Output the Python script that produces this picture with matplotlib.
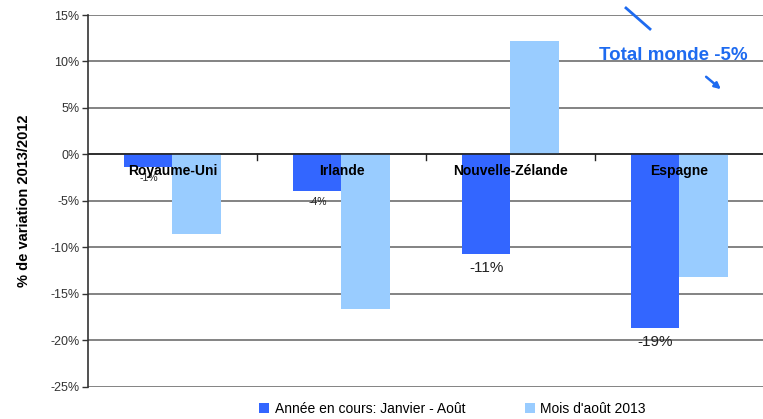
import numpy as np
import matplotlib
matplotlib.use('Agg')
from matplotlib import pyplot as plt
from matplotlib.ticker import FuncFormatter

plt.rcParams['font.family'] = ['Liberation Sans', 'DejaVu Sans']

pays = ['Royaume-Uni', 'Irlande', 'Nouvelle-Zélande', 'Espagne']
janv_aout = [-1.3, -3.9, -10.75, -18.7]
aout_2013 = [-8.6, -16.6, 12.2, -13.2]
labels_janv = ['-1%', '-4%', '-11%', '-19%']
label_sizes = [7.5, 7.5, 11, 11]
serie_names = ['Année en cours: Janvier - Août', "Mois d'août 2013"]

c_dark = '#3366FF'
c_light = '#99CCFF'

fig = plt.figure(figsize=(7.63, 4.19), dpi=100)
ax = fig.add_axes([0.1153, 0.0764, 0.8860, 0.8878])

x = np.arange(len(pays))
w = 0.285
b1 = ax.bar(x - w / 2, janv_aout, w, color=c_dark, label=serie_names[0], zorder=3)
b2 = ax.bar(x + w / 2, aout_2013, w, color=c_light, label=serie_names[1], zorder=3)

ax.set_xlim(-0.5, len(pays) - 0.5)
ax.set_ylim(-25, 15)
ax.set_yticks(np.arange(-25, 16, 5))
ax.yaxis.set_major_formatter(FuncFormatter(lambda v, p: '%d%%' % v))
ax.tick_params(axis='y', labelsize=9, length=4, width=1, colors='#333333', pad=2)
ax.set_xticks([])
ax.grid(axis='y', color='#7a7a7a', linewidth=1.3, zorder=0)

for s in ['top', 'right', 'bottom']:
    ax.spines[s].set_visible(False)
ax.spines['left'].set_color('#333333')
ax.spines['left'].set_linewidth(1.2)

ax.axhline(0, color='#222222', linewidth=1.2, zorder=4)
for xb in x[1:] - 0.5:
    ax.plot([xb, xb], [0, -0.6], color='#222222', linewidth=1, zorder=4)

for i, (v, lab, fs) in enumerate(zip(janv_aout, labels_janv, label_sizes)):
    ax.text(i - w / 2, v - 0.7, lab, ha='center', va='top', fontsize=fs,
            color='#222222', zorder=5)

for i, p in enumerate(pays):
    ax.text(i, -1.8, p, ha='center', va='center', fontsize=10,
            fontweight='bold', zorder=6)

ax.set_ylabel('% de variation 2013/2012', fontsize=10.5, fontweight='bold', labelpad=14)

# annotation total monde
fig.text(0.883, 0.868, 'Total monde -5%', color='#1E6BF0', fontsize=13.5,
         fontweight='bold', ha='center', va='center')
fig.add_artist(plt.Line2D([626 / 763, 650 / 763], [1 - 8 / 419, 1 - 29 / 419],
                          color='#1E6BF0', linewidth=2))
ax.annotate('', xy=(723 / 763, 1 - 91 / 419), xytext=(704 / 763, 1 - 75 / 419),
            xycoords='figure fraction', textcoords='figure fraction',
            arrowprops=dict(arrowstyle='-|>', color='#1E6BF0', lw=1.8,
                            mutation_scale=9))

fig.legend(loc='lower center', bbox_to_anchor=(0.593, -0.022), ncol=2, frameon=False,
           fontsize=10, handlelength=0.7, handleheight=0.7, columnspacing=4.3,
           handletextpad=0.4)

fig.savefig('out.png', dpi=100)
